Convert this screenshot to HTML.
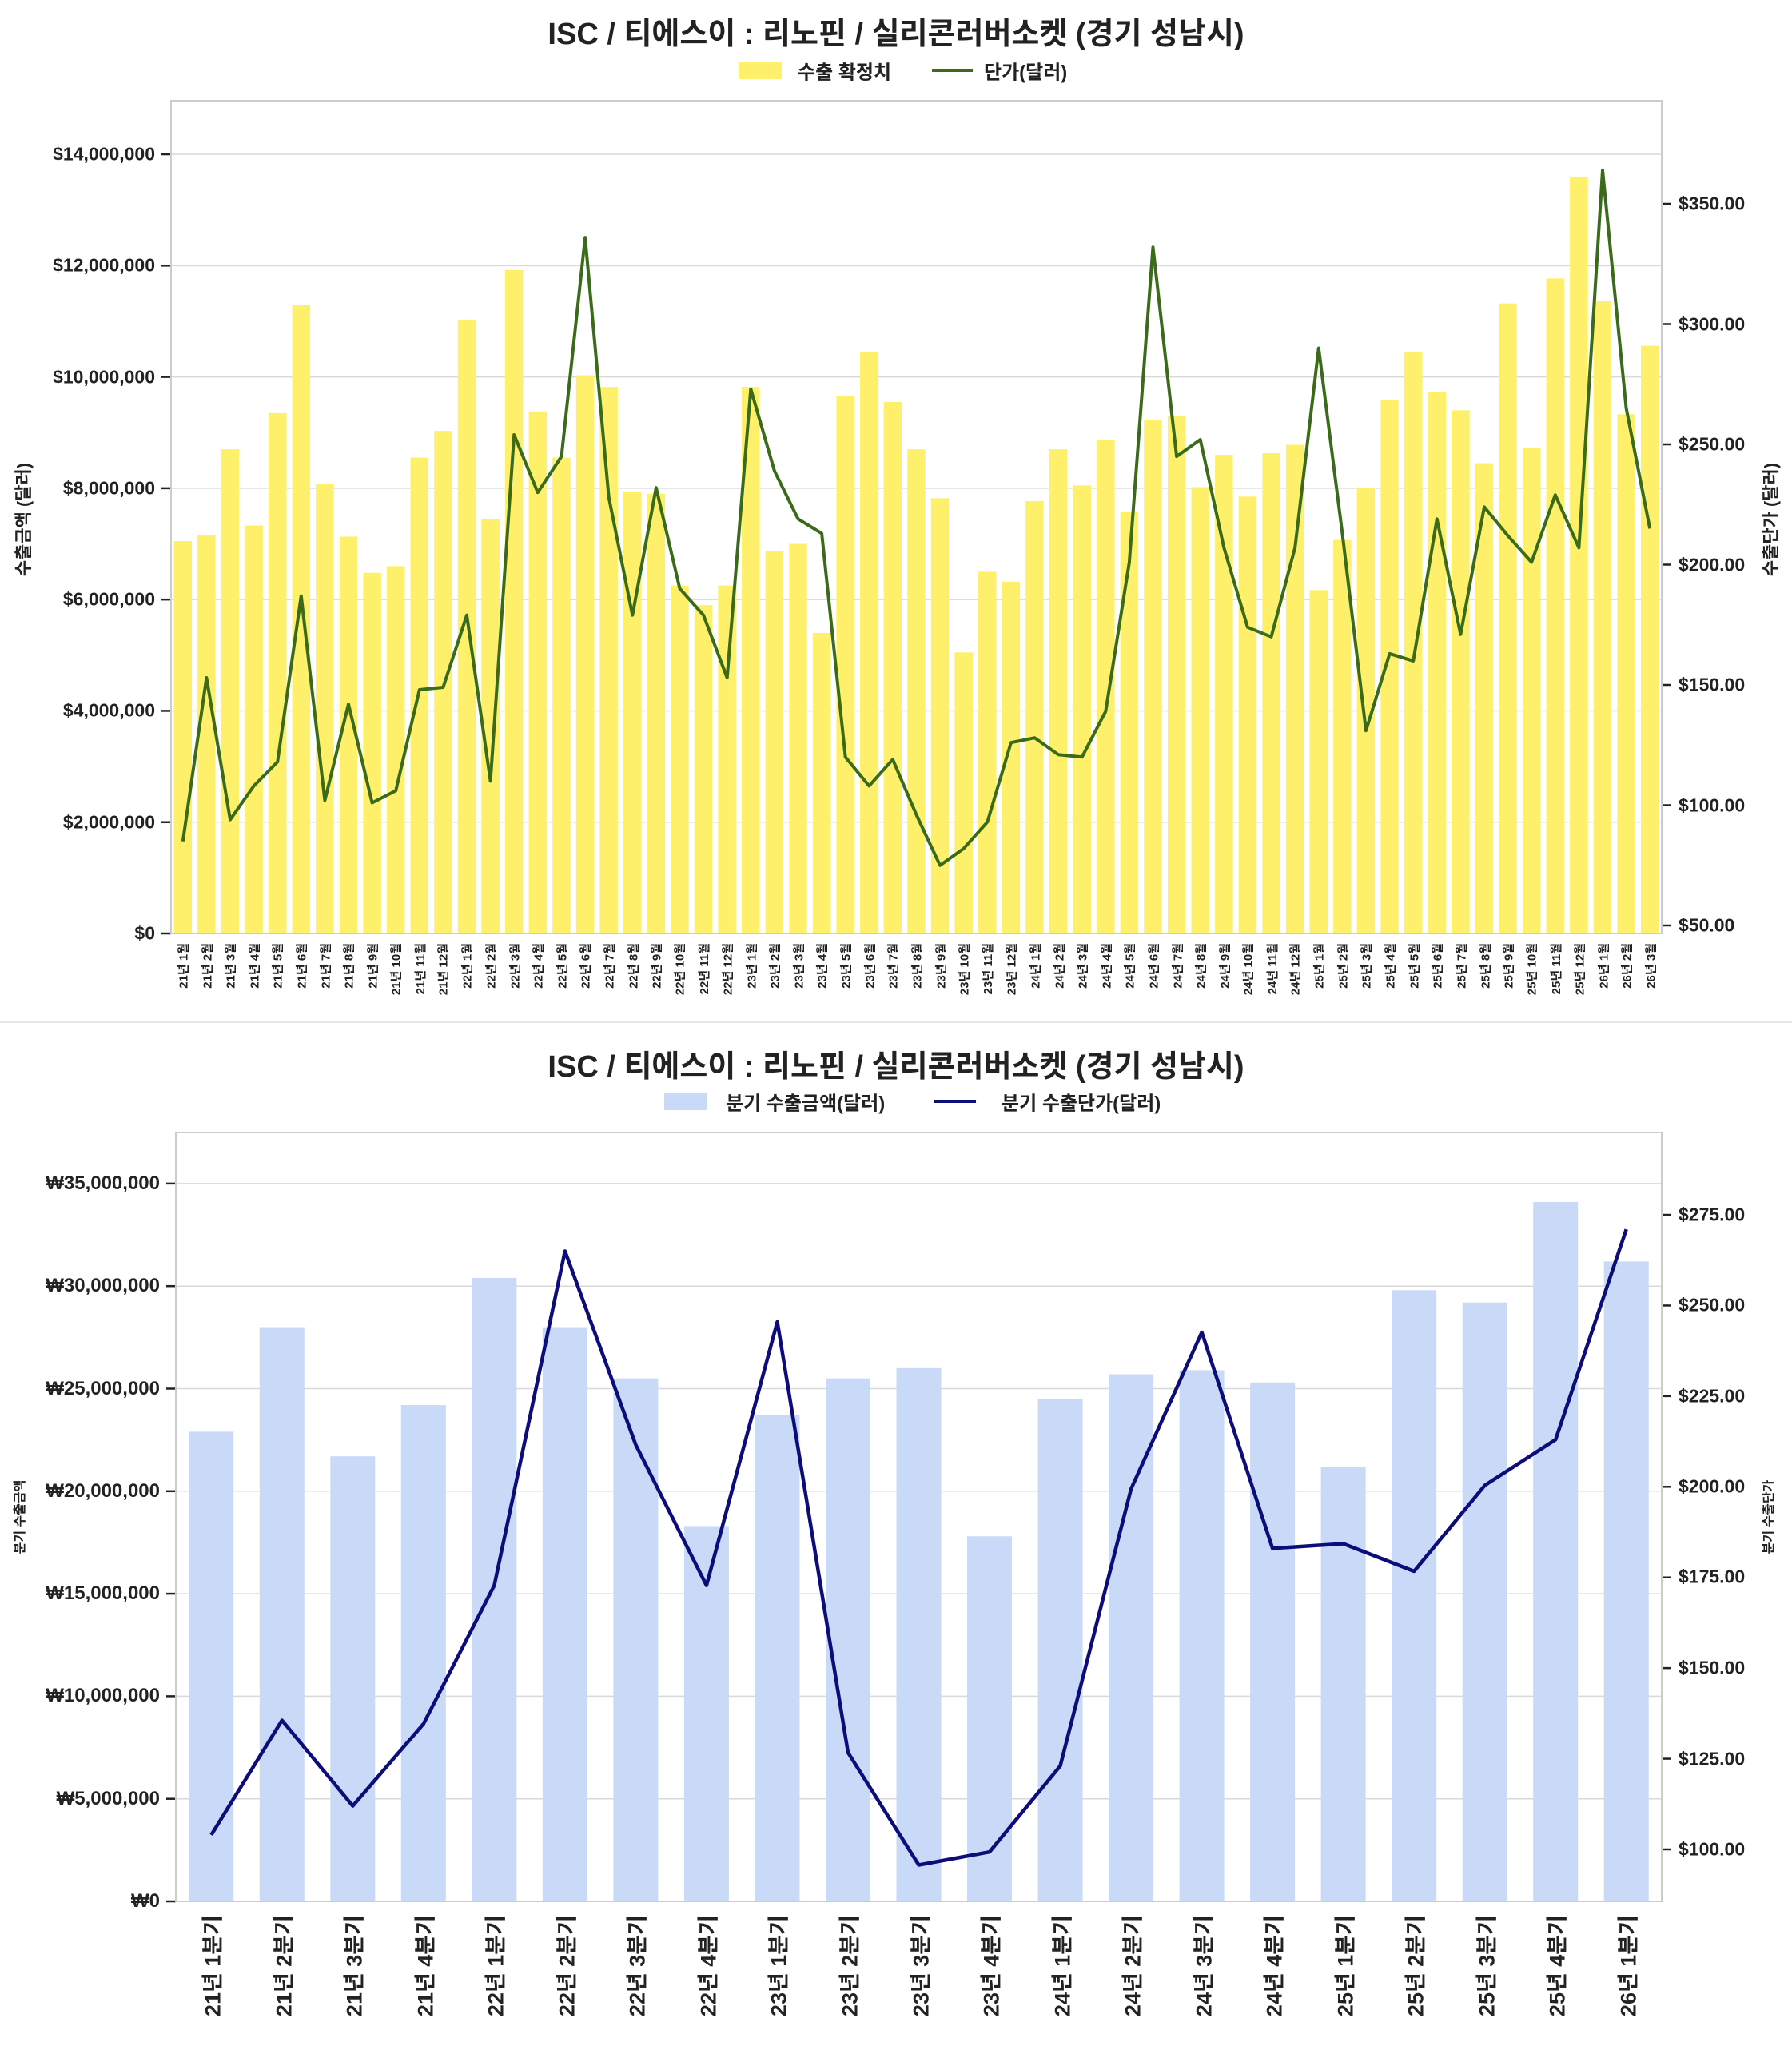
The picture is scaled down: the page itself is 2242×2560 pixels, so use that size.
<!DOCTYPE html>
<html><head><meta charset="utf-8">
<style>
body{margin:0;background:#fff;width:2242px;height:2560px;position:relative;overflow:hidden;font-family:"Liberation Sans","Noto Sans CJK KR",sans-serif;color:#222}
.t{position:absolute;font-weight:bold;white-space:nowrap}
.title{left:0;width:2242px;text-align:center;font-size:38px}
.lt{position:absolute;font-weight:bold;font-size:23px;transform:translateY(-50%);text-align:right;width:180px;white-space:nowrap}
.rt{position:absolute;font-weight:bold;font-size:23px;transform:translateY(-50%);white-space:nowrap}
.leg{position:absolute;font-size:24px;font-weight:bold;transform:translateY(-50%);white-space:nowrap}
.row{position:absolute;display:flex}
.row>div{flex:1;position:relative}
.row span{position:absolute;right:50%;top:0;transform-origin:right top;transform:rotate(-90deg) translateY(-50%);white-space:nowrap;font-weight:bold}
.vt{position:absolute;font-weight:bold;white-space:nowrap;transform:translate(-50%,-50%) rotate(-90deg)}
</style></head><body>
<svg id="s" width="2242" height="2560" style="position:absolute;left:0;top:0"></svg>

<div class="t title" style="top:11px">ISC / 티에스이 : 리노핀 / 실리콘러버소켓 (경기 성남시)</div>
<div class="leg" style="left:998px;top:88px">수출 확정치</div>
<div class="leg" style="left:1231px;top:88px">단가(달러)</div>

<div class="lt" style="left:14px;top:1168px">$0</div>
<div class="lt" style="left:14px;top:1029px">$2,000,000</div>
<div class="lt" style="left:14px;top:889px">$4,000,000</div>
<div class="lt" style="left:14px;top:750px">$6,000,000</div>
<div class="lt" style="left:14px;top:611px">$8,000,000</div>
<div class="lt" style="left:14px;top:472px">$10,000,000</div>
<div class="lt" style="left:14px;top:332px">$12,000,000</div>
<div class="lt" style="left:14px;top:193px">$14,000,000</div>
<div class="rt" style="left:2100px;top:1158px">$50.00</div>
<div class="rt" style="left:2100px;top:1008px">$100.00</div>
<div class="rt" style="left:2100px;top:857px">$150.00</div>
<div class="rt" style="left:2100px;top:707px">$200.00</div>
<div class="rt" style="left:2100px;top:556px">$250.00</div>
<div class="rt" style="left:2100px;top:406px">$300.00</div>
<div class="rt" style="left:2100px;top:255px">$350.00</div>
<div class="vt" style="left:28px;top:650px;font-size:22px">수출금액 (달러)</div>
<div class="vt" style="left:2214px;top:650px;font-size:22px">수출단가 (달러)</div>

<div class="row" style="left:214px;top:1180px;width:1865px;font-size:15px">
<div><span>21년 1월</span></div><div><span>21년 2월</span></div><div><span>21년 3월</span></div><div><span>21년 4월</span></div><div><span>21년 5월</span></div><div><span>21년 6월</span></div><div><span>21년 7월</span></div><div><span>21년 8월</span></div><div><span>21년 9월</span></div><div><span>21년 10월</span></div><div><span>21년 11월</span></div><div><span>21년 12월</span></div>
<div><span>22년 1월</span></div><div><span>22년 2월</span></div><div><span>22년 3월</span></div><div><span>22년 4월</span></div><div><span>22년 5월</span></div><div><span>22년 6월</span></div><div><span>22년 7월</span></div><div><span>22년 8월</span></div><div><span>22년 9월</span></div><div><span>22년 10월</span></div><div><span>22년 11월</span></div><div><span>22년 12월</span></div>
<div><span>23년 1월</span></div><div><span>23년 2월</span></div><div><span>23년 3월</span></div><div><span>23년 4월</span></div><div><span>23년 5월</span></div><div><span>23년 6월</span></div><div><span>23년 7월</span></div><div><span>23년 8월</span></div><div><span>23년 9월</span></div><div><span>23년 10월</span></div><div><span>23년 11월</span></div><div><span>23년 12월</span></div>
<div><span>24년 1월</span></div><div><span>24년 2월</span></div><div><span>24년 3월</span></div><div><span>24년 4월</span></div><div><span>24년 5월</span></div><div><span>24년 6월</span></div><div><span>24년 7월</span></div><div><span>24년 8월</span></div><div><span>24년 9월</span></div><div><span>24년 10월</span></div><div><span>24년 11월</span></div><div><span>24년 12월</span></div>
<div><span>25년 1월</span></div><div><span>25년 2월</span></div><div><span>25년 3월</span></div><div><span>25년 4월</span></div><div><span>25년 5월</span></div><div><span>25년 6월</span></div><div><span>25년 7월</span></div><div><span>25년 8월</span></div><div><span>25년 9월</span></div><div><span>25년 10월</span></div><div><span>25년 11월</span></div><div><span>25년 12월</span></div>
<div><span>26년 1월</span></div><div><span>26년 2월</span></div><div><span>26년 3월</span></div>
</div>

<div class="t title" style="top:1303px">ISC / 티에스이 : 리노핀 / 실리콘러버소켓 (경기 성남시)</div>
<div class="leg" style="left:908px;top:1378px">분기 수출금액(달러)</div>
<div class="leg" style="left:1253px;top:1378px">분기 수출단가(달러)</div>

<div class="lt" style="left:20px;top:2379px;font-size:24px">₩0</div>
<div class="lt" style="left:20px;top:2251px;font-size:24px">₩5,000,000</div>
<div class="lt" style="left:20px;top:2122px;font-size:24px">₩10,000,000</div>
<div class="lt" style="left:20px;top:1994px;font-size:24px">₩15,000,000</div>
<div class="lt" style="left:20px;top:1866px;font-size:24px">₩20,000,000</div>
<div class="lt" style="left:20px;top:1738px;font-size:24px">₩25,000,000</div>
<div class="lt" style="left:20px;top:1609px;font-size:24px">₩30,000,000</div>
<div class="lt" style="left:20px;top:1481px;font-size:24px">₩35,000,000</div>
<div class="rt" style="left:2100px;top:2314px">$100.00</div>
<div class="rt" style="left:2100px;top:2201px">$125.00</div>
<div class="rt" style="left:2100px;top:2087px">$150.00</div>
<div class="rt" style="left:2100px;top:1973px">$175.00</div>
<div class="rt" style="left:2100px;top:1860px">$200.00</div>
<div class="rt" style="left:2100px;top:1747px">$225.00</div>
<div class="rt" style="left:2100px;top:1633px">$250.00</div>
<div class="rt" style="left:2100px;top:1520px">$275.00</div>
<div class="vt" style="left:23px;top:1898px;font-size:16px">분기 수출금액</div>
<div class="vt" style="left:2211px;top:1898px;font-size:16px">분기 수출단가</div>

<div class="row" style="left:220px;top:2396px;width:1859px;font-size:27px">
<div><span>21년 1분기</span></div><div><span>21년 2분기</span></div><div><span>21년 3분기</span></div><div><span>21년 4분기</span></div>
<div><span>22년 1분기</span></div><div><span>22년 2분기</span></div><div><span>22년 3분기</span></div><div><span>22년 4분기</span></div>
<div><span>23년 1분기</span></div><div><span>23년 2분기</span></div><div><span>23년 3분기</span></div><div><span>23년 4분기</span></div>
<div><span>24년 1분기</span></div><div><span>24년 2분기</span></div><div><span>24년 3분기</span></div><div><span>24년 4분기</span></div>
<div><span>25년 1분기</span></div><div><span>25년 2분기</span></div><div><span>25년 3분기</span></div><div><span>25년 4분기</span></div>
<div><span>26년 1분기</span></div>
</div>

<script>
var s=document.getElementById('s'),h='';
function L(x1,y1,x2,y2,c,w){h+='<line x1="'+x1+'" y1="'+y1+'" x2="'+x2+'" y2="'+y2+'" stroke="'+c+'" stroke-width="'+w+'"/>';}
function R(x,y,w,hh,c){h+='<rect x="'+x+'" y="'+y+'" width="'+w+'" height="'+hh+'" fill="'+c+'"/>';}
L(0,1279,2242,1279,'#e6e6e6',2);
R(924,77,54,22,'#fff06b');L(1166,88,1217,88,'#3a6b1a',4);
R(831,1367,54,22,'#c9daf8');L(1169,1378,1221,1378,'#0d0d7a',4);
var l1=214,r1=2079,t1=126,b1=1168;
for(var v=0;v<=14;v+=2){var y=b1-v*69.64;L(l1,y,r1,y,'#d9d9d9',1.5);L(l1-12,y,l1,y,'#222',2.5);}
for(var p=50;p<=350;p+=50){var y=1158-(p-50)*3.01;L(r1,y,r1+12,y,'#222',2.5);}
var m=[7.05,7.15,8.7,7.33,9.35,11.3,8.07,7.13,6.48,6.6,8.55,9.03,11.03,7.45,11.92,9.38,8.55,10.03,9.82,7.93,7.9,6.25,5.9,6.25,9.82,6.87,7.0,5.4,9.65,10.45,9.55,8.7,7.82,5.05,6.5,6.32,7.77,8.7,8.05,8.87,7.58,9.23,9.3,8.02,8.6,7.85,8.63,8.78,6.17,7.07,8.0,9.58,10.45,9.73,9.4,8.45,11.32,8.72,11.77,13.6,11.37,9.33,10.56];
var mp=[85,153,94,108,118,187,102,142,101,106,148,149,179,110,254,230,245,336,228,179,232,190,179,153,273,239,219,213,120,108,119,96,75,82,93,126,128,121,120,139,201,332,245,252,207,174,170,207,290,213,131,163,160,219,171,224,212,201,229,207,364,265,215];
var sl=(r1-l1)/63,pts=[];
for(var i=0;i<63;i++){var cx=l1+sl*(i+0.5),bh=m[i]*69.64;R(cx-sl*0.38,b1-bh,sl*0.76,bh,'#fff06b');pts.push(cx.toFixed(1)+','+(1158-(mp[i]-50)*3.01).toFixed(1));}
h+='<polyline points="'+pts.join(' ')+'" fill="none" stroke="#3a6b1a" stroke-width="4" stroke-linejoin="round"/>';
h+='<rect x="'+l1+'" y="'+t1+'" width="'+(r1-l1)+'" height="'+(b1-t1)+'" fill="none" stroke="#cccccc" stroke-width="2"/>';
var l2=220,r2=2079,t2=1417,b2=2379;
for(var v=0;v<=35;v+=5){var y=b2-v*25.66;L(l2,y,r2,y,'#d9d9d9',1.5);L(l2-12,y,l2,y,'#222',2.5);}
for(var p=100;p<=275;p+=25){var y=2314-(p-100)*4.537;L(r2,y,r2+12,y,'#222',2.5);}
var q=[22.9,28.0,21.7,24.2,30.4,28.0,25.5,18.3,23.7,25.5,26.0,17.8,24.5,25.7,25.9,25.3,21.2,29.8,29.2,34.1,31.2];
var qp=[104,135.6,112,134.6,172.8,265,211.6,172.8,245.5,126.7,95.7,99.3,123,199.4,242.6,183,184.3,176.7,200.4,213,271];
var s2=(r2-l2)/21,p2=[];
for(var i=0;i<21;i++){var cx=l2+s2*(i+0.5),bh=q[i]*25.66;R(cx-28,b2-bh,56,bh,'#c9daf8');p2.push(cx.toFixed(1)+','+(2314-(qp[i]-100)*4.537).toFixed(1));}
h+='<polyline points="'+p2.join(' ')+'" fill="none" stroke="#0d0d7a" stroke-width="4.5" stroke-linejoin="round"/>';
h+='<rect x="'+l2+'" y="'+t2+'" width="'+(r2-l2)+'" height="'+(b2-t2)+'" fill="none" stroke="#cccccc" stroke-width="2"/>';
s.innerHTML=h;
</script>
</body></html>
